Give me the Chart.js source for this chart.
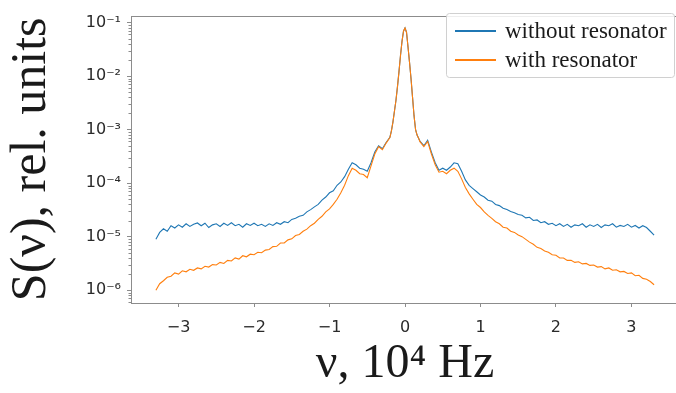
<!DOCTYPE html>
<html><head><meta charset="utf-8">
<script src="https://cdn.jsdelivr.net/npm/chart.js@4/dist/chart.umd.min.js"></script>
<style>html,body{margin:0;padding:0;background:#fff;overflow:hidden;width:676px;height:393px}canvas{display:block}</style>
</head><body>
<canvas id="c" width="700" height="393"></canvas>
<script>
// frequency, 10^4 Hz
const freq = [-3.30,-3.25,-3.20,-3.15,-3.10,-3.05,-3.00,-2.95,-2.90,-2.85,-2.80,-2.75,-2.70,-2.65,-2.60,-2.55,-2.50,-2.45,-2.40,-2.35,-2.30,-2.25,-2.20,-2.15,-2.10,-2.05,-2.00,-1.95,-1.90,-1.85,-1.80,-1.75,-1.70,-1.65,-1.60,-1.55,-1.50,-1.45,-1.40,-1.35,-1.30,-1.25,-1.20,-1.15,-1.10,-1.05,-1.00,-0.95,-0.90,-0.85,-0.80,-0.75,-0.70,-0.65,-0.60,-0.55,-0.50,-0.45,-0.40,-0.35,-0.30,-0.25,-0.20,
 -0.18,-0.16,-0.14,-0.12,-0.10,-0.08,-0.06,-0.04,-0.02,0,0.02,0.04,0.06,0.08,0.10,0.12,0.14,0.16,0.18,
 0.20,0.25,0.30,0.35,0.40,0.45,0.50,0.55,0.60,0.65,0.70,0.75,0.80,0.85,0.90,0.95,1.00,1.05,1.10,1.15,1.20,1.25,1.30,1.35,1.40,1.45,1.50,1.55,1.60,1.65,1.70,1.75,1.80,1.85,1.90,1.95,2.00,2.05,2.10,2.15,2.20,2.25,2.30,2.35,2.40,2.45,2.50,2.55,2.60,2.65,2.70,2.75,2.80,2.85,2.90,2.95,3.00,3.05,3.10,3.15,3.20,3.25,3.30];

const withoutResonator = [8.9e-6,1.2e-5,1.4e-5,1.26e-5,1.6e-5,1.45e-5,1.66e-5,1.5e-5,1.74e-5,1.55e-5,1.7e-5,1.8e-5,1.6e-5,1.78e-5,1.48e-5,1.66e-5,1.74e-5,1.55e-5,1.78e-5,1.62e-5,1.82e-5,1.6e-5,1.7e-5,1.5e-5,1.74e-5,1.62e-5,1.78e-5,1.6e-5,1.7e-5,1.55e-5,1.74e-5,1.62e-5,1.82e-5,1.7e-5,1.9e-5,1.82e-5,2.1e-5,2.2e-5,2.4e-5,2.5e-5,2.9e-5,3.2e-5,3.6e-5,4.0e-5,4.8e-5,5.5e-5,6.6e-5,7.2e-5,9.1e-5,1.05e-4,1.32e-4,1.82e-4,2.4e-4,2.2e-4,1.9e-4,1.82e-4,1.66e-4,2.4e-4,3.8e-4,5.0e-4,4.4e-4,5.75e-4,7.2e-4,
 9.5e-4,1.38e-3,2.2e-3,3.5e-3,6.3e-3,1.2e-2,2.4e-2,4.4e-2,6.9e-2,7.9e-2,6.6e-2,3.5e-2,1.8e-2,8.9e-3,4.0e-3,1.8e-3,1.0e-3,7.9e-4,6.9e-4,
 6.0e-4,5.0e-4,6.3e-4,3.8e-4,2.4e-4,1.74e-4,1.9e-4,1.74e-4,2.0e-4,2.4e-4,2.3e-4,1.66e-4,1.15e-4,9.1e-5,7.9e-5,6.9e-5,6.0e-5,5.5e-5,4.8e-5,4.6e-5,4.0e-5,3.8e-5,3.4e-5,3.2e-5,2.95e-5,2.8e-5,2.6e-5,2.5e-5,2.24e-5,2.3e-5,2.0e-5,2.05e-5,1.82e-5,1.9e-5,1.7e-5,1.78e-5,1.6e-5,1.74e-5,1.55e-5,1.7e-5,1.5e-5,1.66e-5,1.6e-5,1.74e-5,1.5e-5,1.66e-5,1.55e-5,1.7e-5,1.48e-5,1.66e-5,1.6e-5,1.74e-5,1.5e-5,1.62e-5,1.55e-5,1.7e-5,1.5e-5,1.62e-5,1.45e-5,1.6e-5,1.48e-5,1.26e-5,1.07e-5];

const withResonator = [1.0e-6,1.32e-6,1.5e-6,1.74e-6,1.82e-6,2.1e-6,2.0e-6,2.3e-6,2.2e-6,2.45e-6,2.35e-6,2.6e-6,2.5e-6,2.8e-6,2.7e-6,3.0e-6,2.95e-6,3.3e-6,3.16e-6,3.6e-6,3.5e-6,4.0e-6,3.8e-6,4.4e-6,4.2e-6,4.7e-6,4.6e-6,5.1e-6,5.0e-6,5.6e-6,5.75e-6,6.5e-6,6.6e-6,7.6e-6,7.6e-6,8.7e-6,9.1e-6,1.05e-5,1.1e-5,1.26e-5,1.38e-5,1.6e-5,1.78e-5,2.1e-5,2.4e-5,2.9e-5,3.3e-5,4.0e-5,5.0e-5,6.6e-5,9.1e-5,1.38e-4,1.9e-4,1.74e-4,1.5e-4,1.45e-4,1.26e-4,2.1e-4,3.5e-4,4.8e-4,4.2e-4,5.6e-4,7.1e-4,
 9.5e-4,1.38e-3,2.2e-3,3.5e-3,6.3e-3,1.2e-2,2.4e-2,4.4e-2,6.9e-2,7.9e-2,6.6e-2,3.5e-2,1.8e-2,8.9e-3,4.0e-3,1.8e-3,1.0e-3,7.9e-4,6.9e-4,
 5.9e-4,4.8e-4,6.0e-4,3.5e-4,2.2e-4,1.6e-4,1.66e-4,1.5e-4,1.74e-4,1.9e-4,1.66e-4,1.2e-4,8.3e-5,6.3e-5,5.0e-5,4.0e-5,3.5e-5,2.9e-5,2.5e-5,2.2e-5,1.9e-5,1.74e-5,1.5e-5,1.45e-5,1.26e-5,1.2e-5,1.07e-5,1.0e-5,8.9e-6,7.9e-6,7.2e-6,6.3e-6,6.0e-6,5.4e-6,5.1e-6,4.6e-6,4.5e-6,4.0e-6,4.0e-6,3.6e-6,3.6e-6,3.3e-6,3.4e-6,3.1e-6,3.16e-6,2.9e-6,2.95e-6,2.7e-6,2.75e-6,2.5e-6,2.6e-6,2.35e-6,2.4e-6,2.2e-6,2.24e-6,2.05e-6,2.1e-6,1.86e-6,1.9e-6,1.66e-6,1.6e-6,1.45e-6,1.26e-6];

const xTicks = [-3,-2,-1,0,1,2,3];
const yTicks = [1e-6,1e-5,1e-4,1e-3,1e-2,1e-1];
const yTickLabels = ['10⁻⁶','10⁻⁵','10⁻⁴','10⁻³','10⁻²','10⁻¹'];
const seriesNames = ['without resonator','with resonator'];
const seriesColors = ['#1f77b4','#ff7f0e'];

const AX = '#8c8c8c';

const framePlugin = {
  id: 'frame',
  afterDraw(chart) {
    const {ctx, chartArea: a, scales} = chart;
    ctx.save();
    ctx.strokeStyle = AX; ctx.lineWidth = 1;
    ctx.strokeRect(Math.round(a.left)+0.5, Math.round(a.top)+0.5, Math.round(a.right-a.left), Math.round(a.bottom-a.top));
    // minor log ticks
    const y = scales.y;
    ctx.beginPath();
    for (let e = -7; e <= -1; e++) {
      for (let k = 2; k <= 9; k++) {
        const v = k * Math.pow(10, e);
        if (v < y.min || v > y.max) continue;
        const py = Math.round(y.getPixelForValue(v)) + 0.5;
        ctx.moveTo(a.left, py); ctx.lineTo(a.left - 2.5, py);
      }
    }
    ctx.stroke();
    // legend
    const lx = 446, ly = 13, lw = 228, lh = 64;
    ctx.fillStyle = 'rgba(255,255,255,0.85)';
    ctx.strokeStyle = '#d0d0d0';
    ctx.beginPath();
    ctx.roundRect(lx+0.5, ly+0.5, lw, lh, 3);
    ctx.fill(); ctx.stroke();
    ctx.font = '23px "Liberation Serif", serif';
    ctx.textBaseline = 'middle';
    ctx.textAlign = 'left';
    const rows = [31, 60];
    seriesNames.forEach((n, i) => {
      ctx.strokeStyle = seriesColors[i]; ctx.lineWidth = 2.2;
      ctx.beginPath(); ctx.moveTo(455, rows[i]); ctx.lineTo(496, rows[i]); ctx.stroke();
      ctx.fillStyle = '#1a1a1a';
      ctx.fillText(n, 505, rows[i] + 1);
    });
    ctx.restore();
  }
};

new Chart(document.getElementById('c'), {
  type: 'line',
  data: {
    datasets: [
      { label: seriesNames[0], data: freq.map((x,i)=>({x, y: withoutResonator[i]})), borderColor: seriesColors[0], borderWidth: 1.1, pointRadius: 0, order: 1 },
      { label: seriesNames[1], data: freq.map((x,i)=>({x, y: withResonator[i]})), borderColor: seriesColors[1], borderWidth: 1.1, pointRadius: 0, order: 0 }
    ]
  },
  options: {
    responsive: false, animation: false, devicePixelRatio: 1,
    layout: { padding: { left: 0, top: 11, right: 21, bottom: 0 } },
    plugins: { legend: { display: false }, tooltip: { enabled: false } },
    scales: {
      x: {
        type: 'linear', min: -3.63, max: 3.63,
        afterBuildTicks: s => { s.ticks = xTicks.map(v => ({value: v})); },
        afterFit: s => { s.height = 90; },
        ticks: { color: '#2a2a2a', font: { family: 'DejaVu Sans', size: 16 }, padding: 11, maxRotation: 0,
          callback: v => v < 0 ? '−' + Math.abs(v) : String(v) },
        grid: { display: true, drawOnChartArea: false, drawTicks: true, tickLength: 4, color: AX },
        border: { display: false },
        title: { display: true, text: 'ν, 10⁴ Hz', color: '#1a1a1a', font: { family: 'Liberation Serif', size: 48 }, padding: { top: 0, bottom: 0 } }
      },
      y: {
        type: 'logarithmic', min: Math.pow(10, -6.24), max: Math.pow(10, -0.87),
        afterBuildTicks: s => { s.ticks = yTicks.map(v => ({value: v, major: true})); },
        afterFit: s => { s.width = 131; },
        ticks: { color: '#2a2a2a', font: { family: 'DejaVu Sans', size: 16 }, padding: 6,
          callback: (v) => { const i = yTicks.findIndex(t => Math.abs(t - v) / t < 1e-6); return i >= 0 ? yTickLabels[i] : ''; } },
        grid: { display: true, drawOnChartArea: false, drawTicks: true, tickLength: 4, color: AX },
        border: { display: false },
        title: { display: true, text: 'S(ν), rel. units', color: '#1a1a1a', font: { family: 'Liberation Serif', size: 50 }, padding: { top: 2, bottom: 0 } }
      }
    }
  },
  plugins: [framePlugin]
});
</script>
</body></html>
